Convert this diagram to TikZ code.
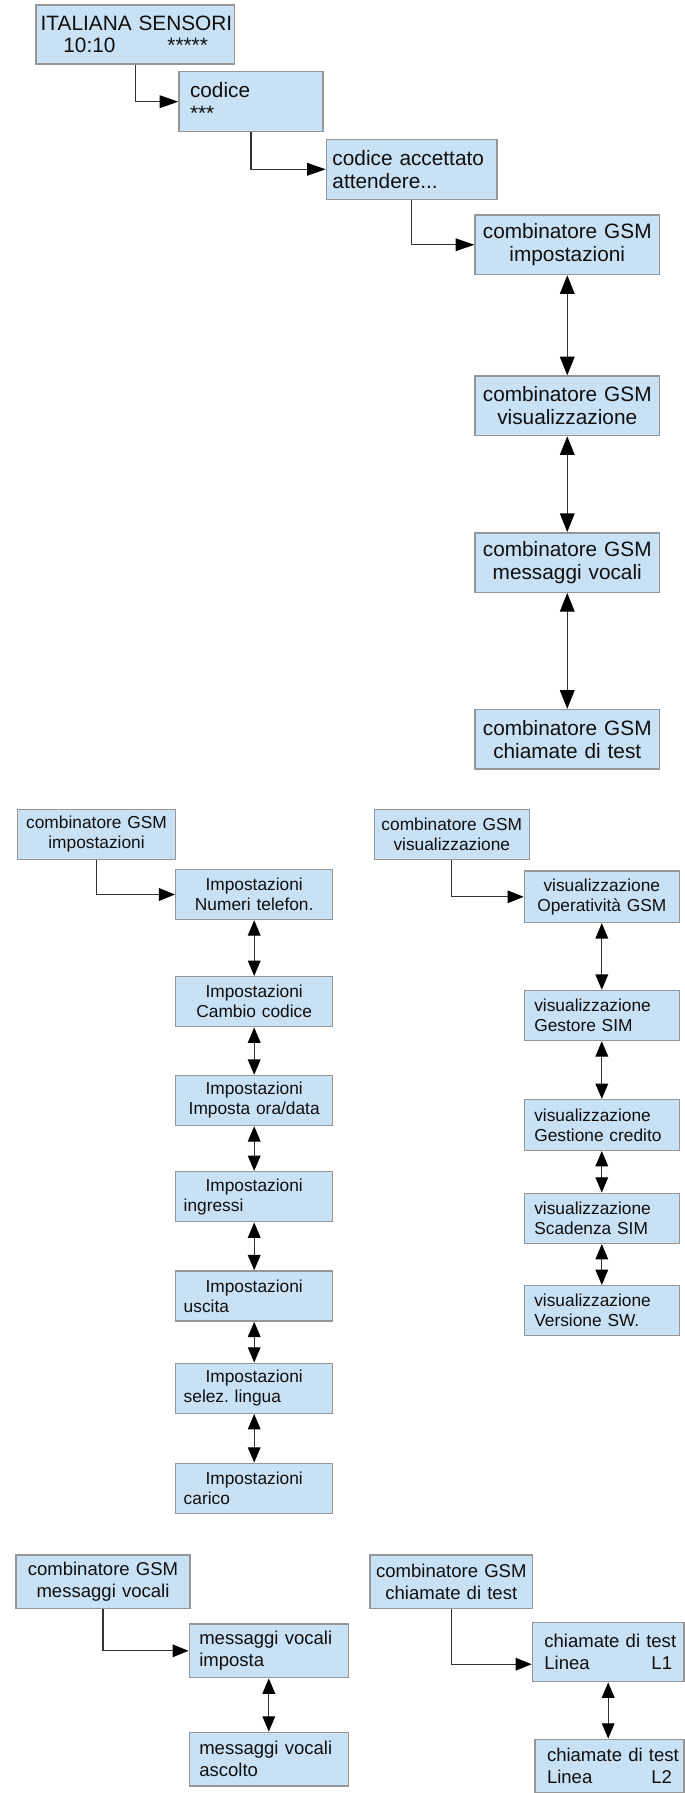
\documentclass[tikz,border=0pt]{standalone}
\usepackage{fontspec}
\setmainfont{Liberation Sans}
\usetikzlibrary{arrows.meta,calc}
\definecolor{boxfill}{RGB}{201,225,244}
\definecolor{boxline}{RGB}{150,150,150}
\definecolor{txt}{RGB}{15,15,15}
\definecolor{conn}{RGB}{50,50,50}
\frenchspacing
\begin{document}
\begin{tikzpicture}[x=0.75pt,y=-0.75pt,
  box/.style={draw=boxline, fill=boxfill, line width=1.1pt, inner ysep=0pt, text=txt, anchor=center},
  topf/.style={font=\fontsize{15.6pt}{17pt}\selectfont},
  midf/.style={font=\fontsize{13pt}{15pt}\selectfont},
  botf/.style={font=\fontsize{13.9pt}{16.3pt}\selectfont},
  elbig/.style={draw=conn, line width=0.95pt, -{Triangle[length=14pt,width=9.5pt,color=black]}},
  dblbig/.style={draw=conn, line width=0.95pt, {Triangle[length=14pt,width=11pt,color=black]}-{Triangle[length=14pt,width=11pt,color=black]}},
  elsm/.style={draw=conn, line width=0.85pt, -{Triangle[length=12pt,width=9.5pt,color=black]}},
  dblsm/.style={draw=conn, line width=0.85pt, {Triangle[length=11.5pt,width=9.5pt,color=black]}-{Triangle[length=11.5pt,width=9.5pt,color=black]}}
]
\path[fill=white,use as bounding box] (0,0) rectangle (685,1793);

% ---------------- top section ----------------
\node[box,topf,align=left,text width=141.8pt,inner xsep=3.5pt,minimum height=44.25pt] (n1) at (135.25,34.5)
  {\mbox{ITALIANA SENSORI}\\\mbox{\hspace*{17pt}10:10\hspace{39pt}*****}};
\node[box,topf,align=left,text width=91.5pt,inner xsep=8.25pt,minimum height=45pt] (n2) at (251,101.7)
  {codice\\{}***};
\node[box,topf,align=left,text width=118.9pt,inner xsep=4.5pt,minimum height=45pt] (n3) at (411.75,169.3)
  {\mbox{codice accettato}\\attendere...};
\node[box,topf,align=center,text width=132.4pt,inner xsep=3pt,minimum height=44.6pt] (n4) at (567.25,244.75)
  {\mbox{combinatore GSM}\\impostazioni};
\node[box,topf,align=center,text width=132.4pt,inner xsep=3pt,minimum height=44.6pt] (n5) at (567.25,405.8)
  {\mbox{combinatore GSM}\\visualizzazione};
\node[box,topf,align=center,text width=132.4pt,inner xsep=3pt,minimum height=44.6pt] (n6) at (567.25,562.5)
  {\mbox{combinatore GSM}\\messaggi vocali};
\node[box,topf,align=center,text width=132.4pt,inner xsep=3pt,minimum height=44.6pt] (n7) at (567.25,739.3)
  {\mbox{combinatore GSM}\\chiamate di test};

\draw[elbig] (n1.south) |- (n2.west);
\draw[elbig] (n2.south) |- (n3.west);
\draw[elbig] (n3.south) |- (n4.west);
\draw[dblbig] (n4.south) -- (n5.north);
\draw[dblbig] (n5.south) -- (n6.north);
\draw[dblbig] (n6.south) -- (n7.north);

% ---------------- middle left ----------------
\node[box,midf,align=center,text width=112.8pt,inner xsep=3pt,minimum height=37.5pt] (a0) at (96.5,834.3)
  {\mbox{combinatore GSM}\\impostazioni};
\node[box,midf,align=center,text width=105.75pt,inner xsep=6pt,minimum height=37.5pt] (a1) at (254.2,894.5)
  {Impostazioni\\\mbox{Numeri telefon.}};
\node[box,midf,align=center,text width=105.75pt,inner xsep=6pt,minimum height=37.5pt] (a2) at (254.2,1001.7)
  {Impostazioni\\\mbox{Cambio codice}};
\node[box,midf,align=center,text width=105.75pt,inner xsep=6pt,minimum height=37.5pt] (a3) at (254.2,1100.5)
  {Impostazioni\\\mbox{Imposta ora/data}};
\node[box,midf,align=left,text width=105.75pt,inner xsep=6pt,minimum height=37.5pt] (a4) at (254.2,1196.7)
  {\makebox[\linewidth]{Impostazioni}\\ingressi};
\node[box,midf,align=left,text width=105.75pt,inner xsep=6pt,minimum height=37.5pt] (a5) at (254.2,1296)
  {\makebox[\linewidth]{Impostazioni}\\uscita};
\node[box,midf,align=left,text width=105.75pt,inner xsep=6pt,minimum height=37.5pt] (a6) at (254.2,1388.3)
  {\makebox[\linewidth]{Impostazioni}\\\mbox{selez. lingua}};
\node[box,midf,align=left,text width=105.75pt,inner xsep=6pt,minimum height=37.5pt] (a7) at (254.2,1488.3)
  {\makebox[\linewidth]{Impostazioni}\\carico};

\draw[elsm] (a0.south) |- (a1.west);
\draw[dblsm] (a1.south) -- (a2.north);
\draw[dblsm] (a2.south) -- (a3.north);
\draw[dblsm] (a3.south) -- (a4.north);
\draw[dblsm] (a4.south) -- (a5.north);
\draw[dblsm] (a5.south) -- (a6.north);
\draw[dblsm] (a6.south) -- (a7.north);

% ---------------- middle right ----------------
\node[box,midf,align=center,text width=110.25pt,inner xsep=3pt,minimum height=37.5pt] (b0) at (451.8,834.3)
  {\mbox{combinatore GSM}\\visualizzazione};
\node[box,midf,align=center,text width=101.25pt,inner xsep=7.5pt,minimum height=38.5pt] (b1) at (601.8,896.8)
  {visualizzazione\\\mbox{Operatività GSM}};
\node[box,midf,align=left,text width=101.25pt,inner xsep=7.5pt,minimum height=37.5pt] (b2) at (601.8,1015.5)
  {visualizzazione\\Gestore SIM};
\node[box,midf,align=left,text width=101.25pt,inner xsep=7.5pt,minimum height=38pt] (b3) at (601.8,1125)
  {visualizzazione\\\mbox{Gestione credito}};
\node[box,midf,align=left,text width=101.25pt,inner xsep=7.5pt,minimum height=37.5pt] (b4) at (601.8,1218.3)
  {visualizzazione\\\mbox{Scadenza SIM}};
\node[box,midf,align=left,text width=101.25pt,inner xsep=7.5pt,minimum height=37.5pt] (b5) at (601.8,1310.7)
  {visualizzazione\\\mbox{Versione SW.}};

\draw[elsm] (b0.south) |- (b1.west);
\draw[dblsm] (b1.south) -- (b2.north);
\draw[dblsm] (b2.south) -- (b3.north);
\draw[dblsm] (b3.south) -- (b4.north);
\draw[dblsm] (b4.south) -- (b5.north);

% ---------------- bottom left ----------------
\node[box,botf,align=center,text width=124.5pt,inner xsep=3pt,minimum height=40pt] (c0) at (103,1581.7)
  {\mbox{combinatore GSM}\\\mbox{messaggi vocali}};
\node[box,botf,align=left,text width=104.25pt,inner xsep=7.5pt,minimum height=40.3pt] (c1) at (268.8,1650.8)
  {\mbox{messaggi vocali}\\imposta};
\node[box,botf,align=left,text width=104.25pt,inner xsep=7.5pt,minimum height=40.3pt] (c2) at (268.8,1759.2)
  {\mbox{messaggi vocali}\\ascolto};

\draw[elsm] (c0.south) |- (c1.west);
\draw[dblsm] (c1.south) -- (c2.north);

% ---------------- bottom right ----------------
\node[box,botf,align=center,text width=116pt,inner xsep=3pt,minimum height=40pt] (d0) at (451.3,1581.7)
  {\mbox{combinatore GSM}\\\mbox{chiamate di test}};
\node[box,botf,align=left,text width=95.8pt,inner xsep=9pt,minimum height=44.25pt] (d1) at (608.2,1652.2)
  {\mbox{chiamate di test}\\Linea\hfill L1};
\node[box,botf,align=left,text width=93.75pt,inner xsep=9pt,minimum height=39.9pt] (d2) at (609.5,1765.9)
  {\mbox{chiamate di test}\\Linea\hfill L2};

\draw[elsm] (d0.south) |- ($(d1.west)+(0,12)$);
\draw[dblsm] (d1.south) -- (d1.south |- d2.north);
\end{tikzpicture}
\end{document}
